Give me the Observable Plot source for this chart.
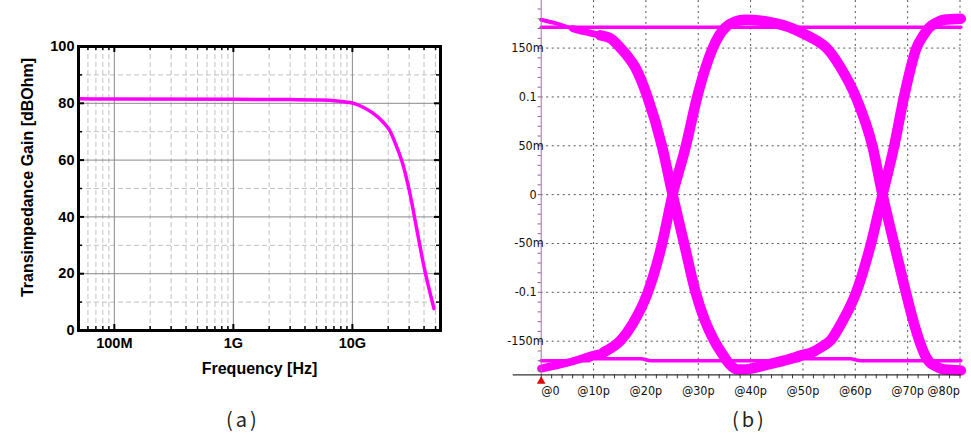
<!DOCTYPE html>
<html><head><meta charset="utf-8">
<script src="https://cdn.jsdelivr.net/npm/d3@7"></script>
<script src="https://cdn.jsdelivr.net/npm/@observablehq/plot@0.6"></script>
<style>
body{margin:0;background:#fff;}
#wrap{position:relative;width:971px;height:448px;overflow:hidden;background:#fff;}
#a{position:absolute;left:0;top:0;}
#b{position:absolute;left:490px;top:0;}
.cap{position:absolute;top:404px;font:400 20px "Noto Sans CJK KR","Noto Sans",sans-serif;color:#222;letter-spacing:3px;}
</style></head><body>
<div id="wrap"><div id="a"></div><div id="b"></div>
<div class="cap" style="left:226px">(a)</div><div class="cap" style="left:732px">(b)</div></div>
<script>
// ---------- Panel (a): transimpedance gain vs frequency ----------
const freqHz    = [5e7, 1e8, 1e9, 3e9, 5e9, 6.4e9, 8.3e9, 1e10, 1.22e10, 1.48e10, 1.79e10, 2.04e10, 2.32e10, 2.64e10, 3e10, 3.5e10, 4e10, 4.85e10];
const gainDbOhm = [81.6, 81.5, 81.4, 81.3, 81.2, 81.1, 80.6, 80.1, 78.7, 76.6, 73.6, 70.7, 65.4, 58.9, 49.5, 35.0, 22.4, 7.7];
const freqMajor = [1e8, 1e9, 1e10];
const freqLabels = ["100M", "1G", "10G"];
const freqMinor = [6e7,7e7,8e7,9e7, 2e8,3e8,4e8,5e8,6e8,7e8,8e8,9e8, 2e9,3e9,4e9,5e9,6e9,7e9,8e9,9e9, 2e10,3e10,4e10,5e10];
const gainMajor = [0, 20, 40, 60, 80, 100];
const gainLabels = ["0", "20", "40", "60", "80", "100"];
const gainMinor = [10, 30, 50, 70, 90];

// ---------- Panel (b): eye diagram ----------
const traceAT = [0, 3, 6, 8, 11.3, 13.2, 15, 16.6, 18, 20.3, 23.1, 25.1, 27.3, 29.5, 31.2, 33, 34.6, 35.9, 37.5, 39, 41, 44, 47, 50, 51.5, 53.5, 55.3, 57.5, 60.1, 63, 65.2, 67.4, 69.3, 70.6, 71.6, 73, 74.1, 75.5, 77, 80.15];
const traceAV = [0.179, 0.175, 0.170, 0.167, 0.163, 0.160, 0.151, 0.141, 0.130, 0.100, 0.049, 0, -0.050, -0.100, -0.128, -0.149, -0.163, -0.173, -0.179, -0.179, -0.177, -0.173, -0.169, -0.164, -0.162, -0.156, -0.149, -0.130, -0.101, -0.050, 0, 0.049, 0.100, 0.130, 0.149, 0.163, 0.171, 0.176, 0.179, 0.180];
const traceBT = [0, 5, 10, 12, 15.2, 17.5, 20.3, 23.1, 25.1, 27.6, 29.8, 31.4, 32.7, 34, 35.2, 37, 39, 42, 45, 47, 49.6, 51.5, 54.7, 57.2, 60.1, 63.3, 65.2, 67.4, 69.7, 71, 72.2, 73.2, 74.1, 75.5, 77, 80.15];
const traceBV = [-0.178, -0.172, -0.164, -0.161, -0.149, -0.132, -0.101, -0.050, 0, 0.049, 0.100, 0.130, 0.149, 0.163, 0.171, 0.177, 0.179, 0.178, 0.175, 0.172, 0.166, 0.161, 0.149, 0.130, 0.100, 0.049, 0, -0.050, -0.101, -0.128, -0.149, -0.163, -0.171, -0.176, -0.179, -0.180];
const highT = [0, 80.15];
const highV = [0.1712, 0.1712];
const lowT = [0, 9, 10, 19, 21, 49, 50, 59, 61, 80.15];
const lowV = [-0.170, -0.170, -0.168, -0.168, -0.170, -0.170, -0.168, -0.168, -0.170, -0.170];
const timeGrid = [10, 20, 30, 40, 50, 60, 70, 80];
const timeTicks = [0, 10, 20, 30, 40, 50, 60, 70, 80];
const timeLabels = ["@0", "@10p", "@20p", "@30p", "@40p", "@50p", "@60p", "@70p", "@80p"];
const voltTicks = [0.15, 0.1, 0.05, 0, -0.05, -0.1, -0.15];
const voltLabels = ["150m", "0.1", "50m", "0", "-50m", "-0.1", "-150m"];

const MAGENTA = "#ff00ff";

// ---------- draw (a) ----------
{
  const W = 470, H = 390, mL = 78, mR = 30, mT = 46, mB = 60;
  const pw = W - mL - mR, ph = H - mT - mB;
  const rows = freqHz.map((f, i) => ({f, g: gainDbOhm[i]}));
  const bold = {fontWeight: "bold", fill: "black"};
  const chart = Plot.plot({
    width: W, height: H, marginLeft: mL, marginRight: mR, marginTop: mT, marginBottom: mB,
    x: {type: "log", domain: [5e7, 5.5e10], axis: null},
    y: {domain: [0, 100], axis: null},
    style: {fontFamily: "'Liberation Sans', Arial, sans-serif", background: "white", overflow: "visible"},
    marks: [
      Plot.ruleX(freqMinor, {stroke: "#c2c2c2", strokeDasharray: "5,3"}),
      Plot.ruleY(gainMinor, {stroke: "#c2c2c2", strokeDasharray: "5,3"}),
      Plot.ruleX(freqMajor, {stroke: "#8a8a8a"}),
      Plot.ruleY(gainMajor.slice(1, -1), {stroke: "#8a8a8a"}),
      Plot.line(rows, {x: "f", y: "g", stroke: MAGENTA, strokeWidth: 3.5, curve: "monotone-x"}),
      // inward ticks
      Plot.ruleX(freqMajor, {insetTop: ph - 6, stroke: "black", strokeWidth: 2}),
      Plot.ruleX(freqMinor, {insetTop: ph - 4, stroke: "black", strokeWidth: 1.5}),
      Plot.ruleX(freqMajor, {insetBottom: ph - 6, stroke: "black", strokeWidth: 2}),
      Plot.ruleX(freqMinor, {insetBottom: ph - 4, stroke: "black", strokeWidth: 1.5}),
      Plot.ruleY(gainMajor, {insetRight: pw - 6, stroke: "black", strokeWidth: 2}),
      Plot.ruleY(gainMinor, {insetRight: pw - 4, stroke: "black", strokeWidth: 1.5}),
      Plot.ruleY(gainMajor, {insetLeft: pw - 6, stroke: "black", strokeWidth: 2}),
      Plot.ruleY(gainMinor, {insetLeft: pw - 4, stroke: "black", strokeWidth: 1.5}),
      Plot.frame({stroke: "black", strokeWidth: 3}),
      Plot.text(freqMajor, {x: d => d, text: (d, i) => freqLabels[i], frameAnchor: "bottom", lineAnchor: "middle", dy: 13, fontSize: 14.5, ...bold}),
      Plot.text(gainMajor, {y: d => d, text: (d, i) => gainLabels[i], frameAnchor: "left", textAnchor: "end", lineAnchor: "middle", dx: -4, fontSize: 14.5, ...bold}),
      Plot.text(["Frequency [Hz]"], {text: d => d, frameAnchor: "bottom", lineAnchor: "middle", textAnchor: "middle", dy: 38, fontSize: 16, ...bold}),
      Plot.text(["Transimpedance Gain [dBOhm]"], {text: d => d, frameAnchor: "left", textAnchor: "middle", lineAnchor: "middle", dx: -51, dy: -11, rotate: -90, fontSize: 16, ...bold})
    ]
  });
  document.getElementById("a").appendChild(chart);
}

// ---------- draw (b) ----------
{
  const W = 481, H = 400, mL = 50.7, mR = 10.7, mT = 0, mB = 25.7;
  const toRows = (T, V) => T.map((t, i) => ({t, v: V[i]}));
  const A = toRows(traceAT, traceAV), B = toRows(traceBT, traceBV);
  const hi = toRows(highT, highV), lo = toRows(lowT, lowV);
  const yMin = -0.1844;
  const font = {fontSize: 12.5, fill: "#111"};
  const chart = Plot.plot({
    width: W, height: H, marginLeft: mL, marginRight: mR, marginTop: mT, marginBottom: mB,
    x: {domain: [0, 80.15], axis: null},
    y: {domain: [yMin, 0.1987], axis: null},
    style: {fontFamily: "'DejaVu Sans', sans-serif", fontStretch: "condensed", background: "white", overflow: "visible"},
    marks: [
      Plot.ruleX(timeGrid, {stroke: "#555", strokeDasharray: "2,3.5"}),
      Plot.ruleY(voltTicks, {stroke: "#555", strokeDasharray: "2,3.5"}),
      Plot.line(hi, {x: "t", y: "v", stroke: MAGENTA, strokeWidth: 3.5}),
      Plot.line(lo, {x: "t", y: "v", stroke: MAGENTA, strokeWidth: 3.5, curve: "monotone-x"}),
      Plot.line(A, {x: "t", y: "v", stroke: MAGENTA, strokeWidth: 4, curve: "monotone-x"}),
      Plot.line(A, {filter: d => d.t >= 5, x: "t", y: "v", stroke: MAGENTA, strokeWidth: 7, curve: "monotone-x"}),
      Plot.line(A, {filter: d => d.t >= 11, x: "t", y: "v", stroke: MAGENTA, strokeWidth: 10.5, curve: "monotone-x"}),
      Plot.line(B, {x: "t", y: "v", stroke: MAGENTA, strokeWidth: 8, curve: "monotone-x"}),
      Plot.line(B, {filter: d => d.t >= 12, x: "t", y: "v", stroke: MAGENTA, strokeWidth: 10.5, curve: "monotone-x"}),
      // axes
      Plot.ruleX([0], {stroke: "#a070a0", strokeWidth: 1}),
      Plot.axisY(d3.range(-0.18, 0.195, 0.01), {tickSize: 3, tickFormat: () => "", stroke: "#8a5a8a", label: null}),
      Plot.ruleY([yMin], {stroke: "#333", strokeWidth: 1.2, insetLeft: -28}),
      Plot.axisX(d3.range(0, 81, 2), {tickSize: 4, tickFormat: () => "", stroke: "#333", label: null}),
      Plot.dot([0], {x: d => d, frameAnchor: "bottom", dy: 6.5, symbol: "triangle", fill: "#e00000", stroke: null, r: 3.2}),
      Plot.text(voltTicks.filter((d, i) => voltLabels[i].endsWith("m")), {y: d => d, text: d => voltLabels[voltTicks.indexOf(d)], frameAnchor: "left", textAnchor: "end", lineAnchor: "middle", dx: 2.5, ...font}),
      Plot.text(voltTicks.filter((d, i) => !voltLabels[i].endsWith("m")), {y: d => d, text: d => voltLabels[voltTicks.indexOf(d)], frameAnchor: "left", textAnchor: "end", lineAnchor: "middle", dx: -4.5, ...font}),
      Plot.text(timeTicks.slice(0, 1), {x: d => d, text: d => timeLabels[timeTicks.indexOf(d)], frameAnchor: "bottom", lineAnchor: "middle", dy: 16, textAnchor: "start", ...font}),
      Plot.text(timeTicks.slice(1, -1), {x: d => d, text: d => timeLabels[timeTicks.indexOf(d)], frameAnchor: "bottom", lineAnchor: "middle", textAnchor: "middle", dy: 16, ...font}),
      Plot.text(timeTicks.slice(-1), {x: d => d, text: d => timeLabels[timeTicks.indexOf(d)], frameAnchor: "bottom", lineAnchor: "middle", dy: 16, textAnchor: "end", ...font})
    ]
  });
  document.getElementById("b").appendChild(chart);
}
</script>
</body></html>
